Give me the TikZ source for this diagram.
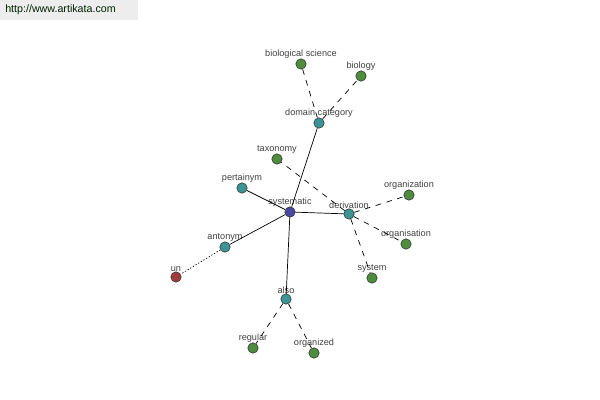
\documentclass[tikz,border=0pt]{standalone}
\usepackage{fontspec}
\setmainfont{Liberation Sans}
\usepackage{tikz}

\definecolor{leafgreen}{HTML}{4E8C3E}
\definecolor{midteal}{HTML}{3C9494}
\definecolor{rootblue}{HTML}{4848A0}
\definecolor{antired}{HTML}{A03C3C}
\definecolor{lbltext}{HTML}{404040}

\tikzset{
  word/.style={circle, draw=black!80, line width=0.4pt, inner sep=0pt, minimum size=0.26cm},
  lbl/.style={font=\fontsize{6.5}{7}\selectfont, text=lbltext, inner sep=0.5pt},
  rel/.style={line width=0.5pt},
  hint/.style={line width=0.5pt, dash pattern=on 4pt off 4pt},
  dot/.style={line width=0.5pt, dash pattern=on 0.9pt off 1.3pt}
}

\begin{document}
\begin{tikzpicture}[x=0.025cm, y=-0.025cm, every label/.style={lbl}, label distance=-0.5pt]
      \useasboundingbox (0,0) rectangle (600,400);
      % watermark
      \fill[black!7] (0,0) rectangle (138,20);
      \node[anchor=west, font=\fontsize{7.6}{8}\selectfont, text=black!75!green!50!black, inner sep=0pt] (site) at (5,10) {http://www.artikata.com};
      % words
      \node[word, fill=rootblue, label=above:systematic] (systematic) at (290,212) {};
      \node[word, fill=midteal, label=above:domain category] (domain) at (319,123) {};
      \node[word, fill=leafgreen, label=above:biological science] (bioscience) at (301,64) {};
      \node[word, fill=leafgreen, label=above:biology] (biology) at (361,76) {};
      \node[word, fill=leafgreen, label=above:taxonomy] (taxonomy) at (277,159) {};
      \node[word, fill=midteal, label=above:pertainym] (pertainym) at (242,188) {};
      \node[word, fill=midteal, label=above:derivation] (derivation) at (349,214) {};
      \node[word, fill=leafgreen, label=above:organization] (organization) at (409,195) {};
      \node[word, fill=leafgreen, label=above:organisation] (organisation) at (406,244) {};
      \node[word, fill=leafgreen, label=above:system] (system) at (372,278) {};
      \node[word, fill=midteal, label=above:antonym] (antonym) at (225,247) {};
      \node[word, fill=antired, label=above:un] (un) at (176,277) {};
      \node[word, fill=midteal, label=above:also] (also) at (286,299) {};
      \node[word, fill=leafgreen, label=above:regular] (regular) at (253,348) {};
      \node[word, fill=leafgreen, label=above:organized] (organized) at (314,353) {};
      % relations
      \draw[rel] (systematic) -- (domain);
      \draw[rel] (systematic) -- (pertainym);
      \draw[rel] (systematic) -- (derivation);
      \draw[rel] (systematic) -- (antonym);
      \draw[rel] (systematic) -- (also);
      \draw[hint] (domain) -- (bioscience);
      \draw[hint] (domain) -- (biology);
      \draw[hint] (derivation) -- (taxonomy);
      \draw[hint] (derivation) -- (organization);
      \draw[hint] (derivation) -- (organisation);
      \draw[hint] (derivation) -- (system);
      \draw[hint] (also) -- (regular);
      \draw[hint] (also) -- (organized);
      \draw[dot] (antonym) -- (un);
    \end{tikzpicture}
\end{document}
